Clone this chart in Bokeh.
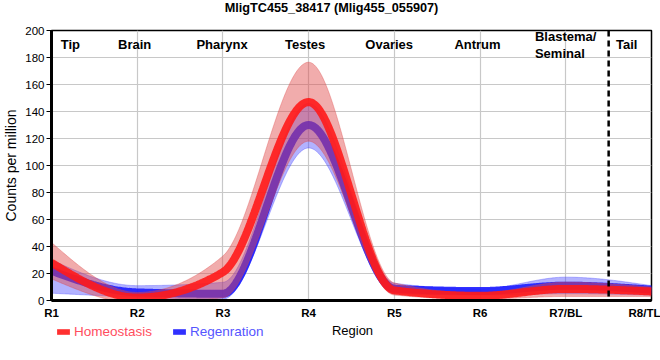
import numpy as np
from bokeh.plotting import figure
from bokeh.layouts import column
from bokeh.models import FixedTicker, Label, Span, Legend, LegendItem, Range1d
from bokeh.embed import file_html
from bokeh.resources import INLINE

# ---------------- data ----------------
regions = ["R1", "R2", "R3", "R4", "R5", "R6", "R7/BL", "R8/TL"]
tissues = ["Tip", "Brain", "Pharynx", "Testes", "Ovaries", "Antrum", "Blastema/\nSeminal", "Tail"]

hom_mean = [28, 2.2, 21, 147, 7.5, 3.5, 8.6, 6.7]
hom_low = [16, -2, 2, 118, 4, 1, 3, 3]
hom_high = [43, 6, 33, 176.5, 13, 5.5, 13.6, 10]

reg_mean = [22, 6, 5, 130, 8.7, 7, 11, 8]
reg_low = [5.4, 2.5, 1, 113, 5, 4, 5, 4]
reg_high = [30, 11, 13.5, 146, 12.8, 8.6, 17.3, 11]

title_text = "MligTC455_38417 (Mlig455_055907)"
series_names = ["Homeostasis", "Regenration"]
FONT = "Liberation Sans"


def monotone(ys, n=60):
    """Monotone cubic (d3 curveMonotoneX style) drawing path through the points."""
    y = np.asarray(ys, float)
    x = np.arange(1, len(y) + 1, dtype=float)
    h = np.diff(x)
    s = np.diff(y) / h
    m = np.zeros_like(y)
    sgn = lambda v: -1.0 if v < 0 else 1.0
    for i in range(1, len(y) - 1):
        s0, s1 = s[i - 1], s[i]
        p = (s0 * h[i] + s1 * h[i - 1]) / (h[i - 1] + h[i])
        m[i] = (sgn(s0) + sgn(s1)) * min(abs(s0), abs(s1), 0.5 * abs(p))
    m[0] = (3 * s[0] - m[1]) / 2
    m[-1] = (3 * s[-1] - m[-2]) / 2
    xs, yv = [], []
    for i in range(len(y) - 1):
        t = np.linspace(0, 1, n, endpoint=(i == len(y) - 2))
        h00 = 2 * t**3 - 3 * t**2 + 1
        h10 = t**3 - 2 * t**2 + t
        h01 = -2 * t**3 + 3 * t**2
        h11 = t**3 - t**2
        xs.append(x[i] + t * h[i])
        yv.append(h00 * y[i] + h10 * h[i] * m[i] + h01 * y[i + 1] + h11 * h[i] * m[i + 1])
    return np.concatenate(xs), np.concatenate(yv)


def strip(height):
    f = figure(width=660, height=height, x_range=Range1d(0, 1), y_range=Range1d(0, 1),
               output_backend="svg", toolbar_location=None, title=None,
               x_axis_type=None, y_axis_type=None,
               min_border_left=0, min_border_right=0, min_border_top=0, min_border_bottom=0)
    f.outline_line_color = None
    f.grid.visible = False
    f.background_fill_color = "white"
    f.border_fill_color = "white"
    return f


# ---------- top strip: title ----------
t = strip(22)
t.add_layout(Label(x=280, y=14.5, x_units="screen", y_units="screen", text=title_text,
                   text_align="center", text_baseline="alphabetic", text_font=FONT,
                   text_font_size="12.7px", text_font_style="bold", text_color="black"))

# ---------- main plot ----------
p = figure(width=660, height=300, x_range=(1, 8), y_range=(0, 200),
           output_backend="svg", toolbar_location=None, title=None,
           min_border_left=50, min_border_right=9, min_border_top=8, min_border_bottom=22)
p.background_fill_color = "white"
p.border_fill_color = "white"
p.outline_line_color = "black"
p.outline_line_width = 1.5

# grid
p.xgrid.grid_line_color = "#c8c8c8"
p.ygrid.grid_line_color = "#c8c8c8"
p.xgrid.grid_line_width = 1.2
p.ygrid.grid_line_width = 1.2

# axes
p.xaxis.ticker = FixedTicker(ticks=list(range(1, 9)))
p.xaxis.major_label_overrides = {i + 1: r for i, r in enumerate(regions)}
p.yaxis.ticker = FixedTicker(ticks=list(range(0, 201, 20)))
for ax in (p.xaxis, p.yaxis):
    ax.axis_line_color = "black"
    ax.axis_line_width = 3
    ax.minor_tick_line_color = None
    ax.major_label_text_font = FONT
    ax.major_label_text_color = "black"
    ax.major_label_text_font_size = "11.5px"
p.xaxis.major_tick_line_color = None
p.xaxis.major_tick_out = 0
p.xaxis.major_tick_in = 0
p.xaxis.major_label_standoff = 6
p.xaxis.major_label_text_font_style = "bold"
p.yaxis.major_tick_line_color = "black"
p.yaxis.major_tick_line_width = 1
p.yaxis.major_tick_out = 5
p.yaxis.major_tick_in = 0
p.yaxis.major_label_standoff = 2
p.yaxis.axis_label = "Counts per million"
p.yaxis.axis_label_text_font = FONT
p.yaxis.axis_label_text_font_size = "14px"
p.yaxis.axis_label_text_font_style = "normal"
p.yaxis.axis_label_text_color = "black"
p.yaxis.axis_label_standoff = 3

# bands and lines
xb, rh = monotone(reg_high)
_, rl = monotone(reg_low)
_, rm = monotone(reg_mean)
_, hh = monotone(hom_high)
_, hl = monotone(hom_low)
_, hm = monotone(hom_mean)

p.varea(x=xb, y1=rl, y2=rh, fill_color="#4848ff", fill_alpha=0.42)
p.line(xb, rh, line_color="#4848ff", line_alpha=0.35, line_width=1)
p.line(xb, rl, line_color="#4848ff", line_alpha=0.35, line_width=1)
p.line(xb, rm, line_color="#1c1cff", line_alpha=0.9, line_width=8)

p.varea(x=xb, y1=hl, y2=hh, fill_color="#e04848", fill_alpha=0.45)
p.line(xb, hh, line_color="#e04848", line_alpha=0.35, line_width=1)
p.line(xb, hl, line_color="#e04848", line_alpha=0.35, line_width=1)
p.line(xb, hm, line_color="#ff1a1a", line_alpha=0.9, line_width=8)

# dashed separator between blastema and tail
p.add_layout(Span(location=7.5, dimension="height", line_color="black",
                  line_width=2.5, line_dash="6 4"))

# tissue labels along the top
tissue_x = [1.22, 1.97, 2.99, 3.96, 4.94, 5.97, 6.64, 7.71]
for name, tx in zip(tissues, tissue_x):
    p.add_layout(Label(x=tx, y=200, y_offset=-14.3, text=name,
                       text_align="left" if "\n" in name else "center",
                       text_baseline="alphabetic", text_font=FONT,
                       text_font_size="13px", text_font_style="bold",
                       text_color="black", text_line_height=1.1))

# ---------- bottom strip: legend + x-axis title ----------
q = strip(30)

# legend swatch renderers (no visible marks of their own)
sw_red = q.quad(left=[np.nan], right=[np.nan], top=[np.nan], bottom=[np.nan],
                fill_color="#ff3030", line_color=None)
sw_blue = q.quad(left=[np.nan], right=[np.nan], top=[np.nan], bottom=[np.nan],
                 fill_color="#3030ff", line_color=None)

for rend, lab, col, lx in [(sw_red, series_names[0], "#ff4d5e", 4),
                           (sw_blue, series_names[1], "#5555ff", 120)]:
    leg = Legend(items=[LegendItem(label=lab, renderers=[rend])], location=(lx, 11),
                 orientation="horizontal", border_line_color=None,
                 background_fill_alpha=0, padding=0, margin=0, spacing=0,
                 glyph_width=16, glyph_height=7, label_standoff=3,
                 label_text_font=FONT, label_text_font_size="13.5px",
                 label_text_color=col, label_height=20)
    q.add_layout(leg)

q.add_layout(Label(x=301, y=22, x_units="screen", y_units="screen", text="Region",
                   text_align="center", text_baseline="alphabetic", text_font=FONT,
                   text_font_size="13px", text_color="black"))

layout = column(t, p, q, spacing=0)
open("out.html", "w").write(file_html(layout, INLINE))
